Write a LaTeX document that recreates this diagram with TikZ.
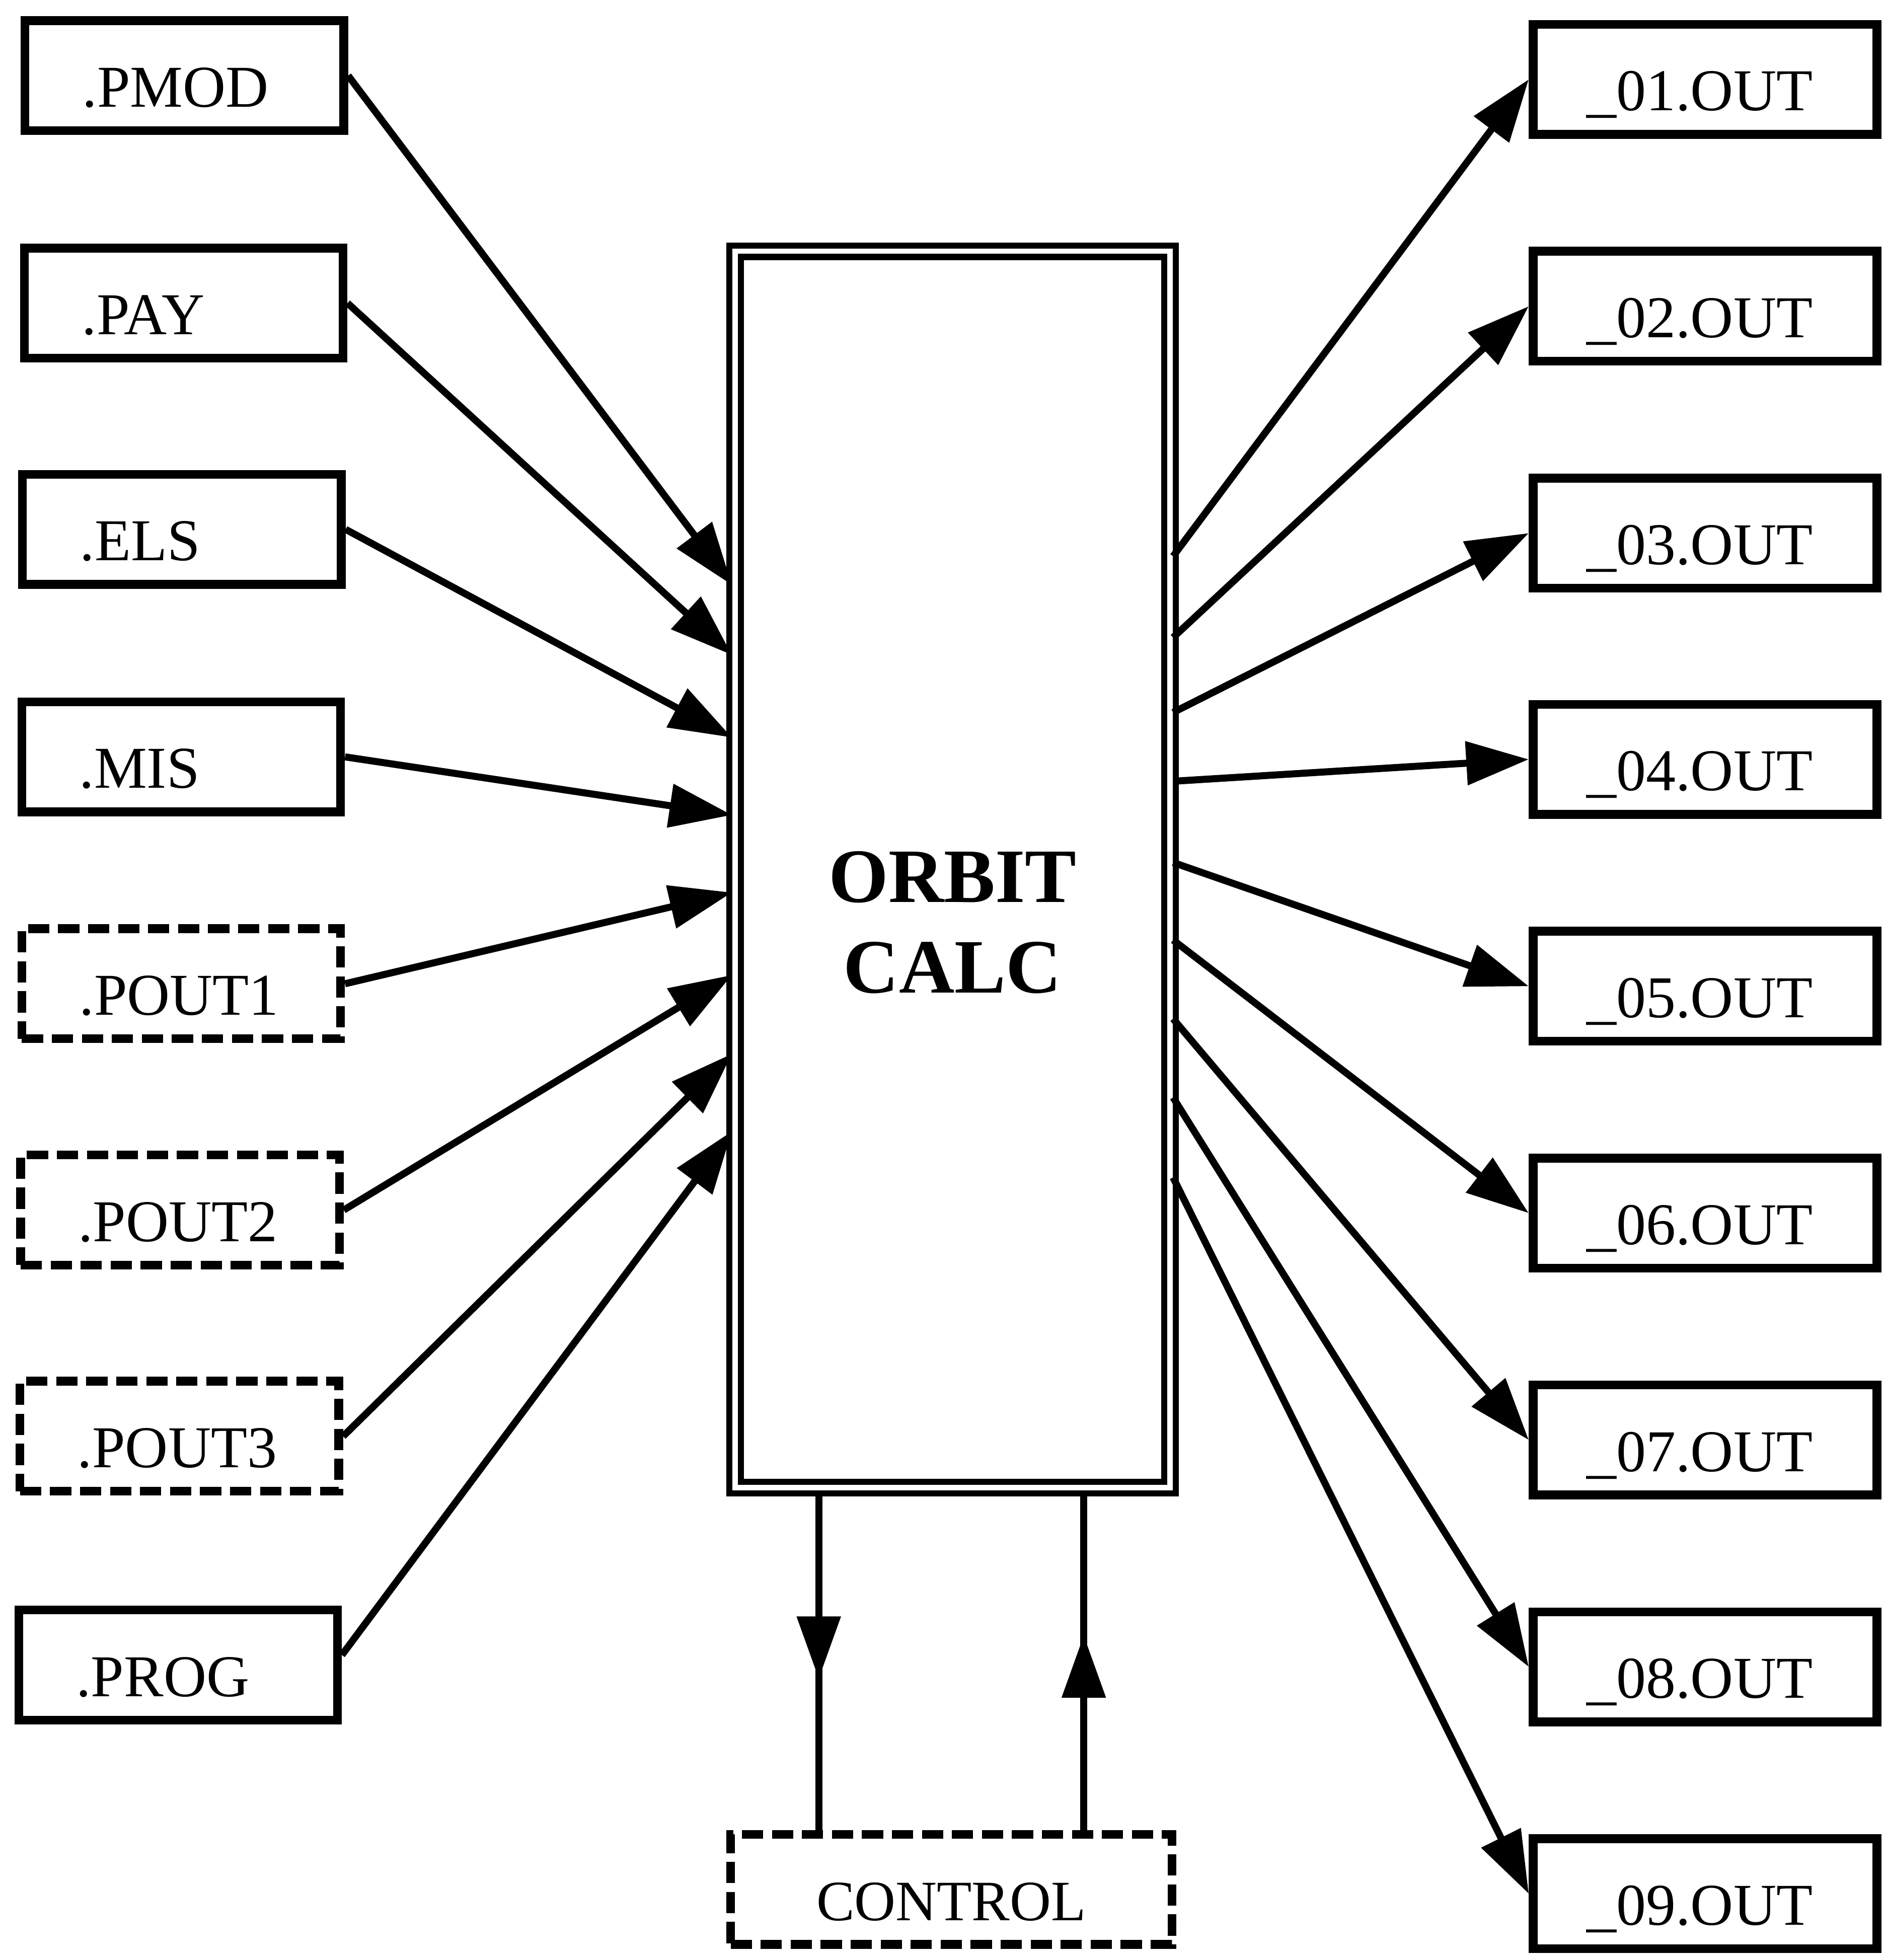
\documentclass[tikz,border=0pt]{standalone}
\usepackage{fontspec}
\setmainfont{Liberation Serif}
\usetikzlibrary{arrows.meta,decorations.markings}

\tikzset{
    filebox/.style={draw, line width=2pt, minimum width=2.55cm, minimum height=0.88cm,
        text width=1.63cm, align=left, inner xsep=0.46cm, text height=0.55cm, text depth=0.05cm,
        inner ysep=0.1cm, font=\fontsize{13.5}{15}\selectfont},
    tmpbox/.style={filebox, dash pattern=on 0.17cm off 0.07cm},
    outbox/.style={filebox, minimum width=2.75cm, text width=1.89cm, inner xsep=0.43cm},
    flow/.style={line width=1.6pt, -{Triangle[length=0.5cm,width=0.34cm]}},
    midarrow/.style={line width=1.6pt, postaction={decorate},
        decoration={markings, mark=at position #1 with {\arrow{Triangle[length=0.5cm,width=0.34cm]}}}}
}

\begin{document}
\begin{tikzpicture}

    \useasboundingbox (0,0) rectangle (15.07,-15.68);

    % --------------------------
    % 中心模块
    % --------------------------
    \node[draw, double, double distance=1.2pt, line width=1.4pt,
          minimum width=3.48cm, minimum height=9.89cm] (calc) at (7.62,-6.955) {};
    \node[align=center, font=\fontsize{17.5}{20.7}\selectfont\bfseries] (calctext) at (7.62,-7.38) {ORBIT\\CALC};

    % --------------------------
    % 输入文件
    % --------------------------
    \node[filebox] (pmod)  at (1.475,-0.605) {.PMOD};
    \node[filebox] (pay)   at (1.47,-2.425)  {.PAY};
    \node[filebox] (els)   at (1.455,-4.235) {.ELS};
    \node[filebox] (mis)   at (1.45,-6.055)  {.MIS};
    \node[tmpbox]  (pout1) at (1.45,-7.87)   {.POUT1};
    \node[tmpbox]  (pout2) at (1.44,-9.68)   {.POUT2};
    \node[tmpbox]  (pout3) at (1.435,-11.49) {.POUT3};
    \node[filebox] (prog)  at (1.425,-13.32) {.PROG};

    \draw[flow] (pmod.east)  -- ([yshift=2.275cm]calc.west);
    \draw[flow] (pay.east)   -- ([yshift=1.715cm]calc.west);
    \draw[flow] (els.east)   -- ([yshift=1.055cm]calc.west);
    \draw[flow] (mis.east)   -- ([yshift=0.435cm]calc.west);
    \draw[flow] (pout1.east) -- ([yshift=-0.185cm]calc.west);
    \draw[flow] (pout2.east) -- ([yshift=-0.845cm]calc.west);
    \draw[flow] (pout3.east) -- ([yshift=-1.475cm]calc.west);
    \draw[flow] ([yshift=0.08cm]prog.east) -- ([yshift=-2.095cm]calc.west);

    % --------------------------
    % 输出文件
    % --------------------------
    \foreach \n/\y/\dy in {01/0.635/2.505, 02/2.45/1.855, 03/4.265/1.255,
                           04/6.075/0.705, 05/7.89/0.055, 06/9.705/-0.565,
                           07/11.52/-1.195, 08/13.335/-1.825, 09/15.15/-2.465} {
        \node[outbox] (out\n) at (13.64,-\y) {\_\n.OUT};
        \draw[flow] ([yshift=\dy cm]calc.east) -- (out\n.west);
    }

    % --------------------------
    % 控制
    % --------------------------
    \node[tmpbox, minimum width=3.53cm, text width=, align=center,
          font=\fontsize{13}{15}\selectfont] (control) at (7.61,-15.115) {CONTROL};

    \coordinate (ctrlout) at ([xshift=-1.07cm]calc.south);
    \coordinate (ctrlin)  at ([xshift=1.05cm]calc.south);
    \draw[midarrow=0.555] (ctrlout) -- (ctrlout |- control.north);
    \draw[midarrow=0.574] (ctrlin |- control.north) -- (ctrlin);

\end{tikzpicture}
\end{document}
